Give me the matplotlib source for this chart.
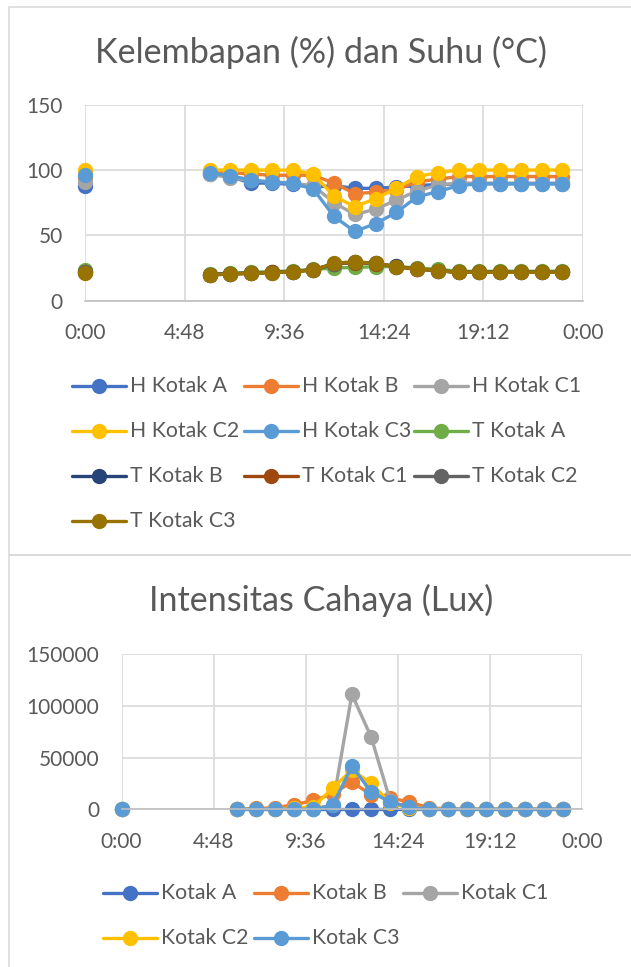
import numpy as np
import matplotlib
matplotlib.use("Agg")
import matplotlib.pyplot as plt
from matplotlib.lines import Line2D
from matplotlib.patches import Rectangle

plt.rcParams['font.family'] = ['Lato', 'DejaVu Sans']

# jam pengukuran (0:00, lalu 6:00 - 23:00); jam 1-5 kosong
hours = list(range(24))
gap = [np.nan] * 5

# kelembapan (%)
h_kotak_a = [88] + gap + [97, 95, 90, 90, 89, 87, 88, 86, 86, 87, 88, 89, 89, 89.5, 89.5, 89.5, 89.5, 89.5]
h_kotak_b = [95] + gap + [99, 98, 97, 96, 96, 96, 90, 82, 83, 85, 91, 93, 95, 95, 95, 95, 95, 95]
h_kotak_c1 = [91] + gap + [97, 94, 92, 91, 90, 88, 75, 66, 70, 77, 84, 88.5, 90, 90, 90, 90, 90, 90]
h_kotak_c2 = [100] + gap + [100, 100, 100, 100, 100, 97, 80, 72, 78, 86, 95, 98, 100, 100, 100, 100, 100, 100]
h_kotak_c3 = [96] + gap + [98, 95.5, 92.5, 90.5, 90, 85.5, 64.5, 53, 59, 67.5, 79.5, 83.5, 88, 89.5, 89.5, 89.5, 89.5, 89.5]

# suhu (°C)
t_kotak_a = [23.6] + gap + [20.5, 21, 21.7, 22.2, 22.8, 24, 25, 25.5, 26, 26.2, 25, 24, 22.5, 22.5, 22.5, 22.5, 22.5, 22.5]
t_kotak_b = [22] + gap + [20, 20.6, 21.2, 21.7, 22.3, 23.6, 28, 29.5, 28.5, 26.2, 24.3, 23, 21.8, 21.8, 21.8, 21.8, 21.8, 21.8]
t_kotak_c1 = [21.8] + gap + [19.8, 20.5, 21, 21.6, 22.2, 23.6, 28, 29.2, 28.4, 26, 24.2, 23, 21.7, 21.7, 21.7, 21.7, 21.7, 21.7]
t_kotak_c2 = [21.6] + gap + [19.8, 20.4, 21, 21.5, 22.2, 23.8, 28.2, 29.6, 28.5, 26, 24.3, 23, 21.7, 21.7, 21.7, 21.7, 21.7, 21.7]
t_kotak_c3 = [21.5] + gap + [19.7, 20.4, 21, 21.5, 22.2, 23.5, 28.6, 29.9, 28.6, 26, 24.3, 23, 21.7, 21.7, 21.7, 21.7, 21.7, 21.7]

# intensitas cahaya (lux)
lux_kotak_a = [0] + gap + [0] * 18
lux_kotak_b = [0] + gap + [300, 800, 1500, 4500, 8500, 15000, 26400, 14000, 11000, 7000, 1500, 500, 0, 0, 0, 0, 0, 0]
lux_kotak_c1 = [0] + gap + [0, 0, 0, 100, 200, 4000, 111000, 70000, 8000, 1000, 0, 0, 0, 0, 0, 0, 0, 0]
lux_kotak_c2 = [0] + gap + [0, 0, 0, 1000, 2500, 20500, 38000, 25000, 6000, 1500, 300, 0, 0, 0, 0, 0, 0, 0]
lux_kotak_c3 = [0] + gap + [0, 0, 0, 0, 0, 3900, 41600, 16800, 7000, 2000, 0, 0, 0, 0, 0, 0, 0, 0]

top_names = ["H Kotak A", "H Kotak B", "H Kotak C1", "H Kotak C2", "H Kotak C3",
             "T Kotak A", "T Kotak B", "T Kotak C1", "T Kotak C2", "T Kotak C3"]
top_series = [h_kotak_a, h_kotak_b, h_kotak_c1, h_kotak_c2, h_kotak_c3,
              t_kotak_a, t_kotak_b, t_kotak_c1, t_kotak_c2, t_kotak_c3]
bottom_names = ["Kotak A", "Kotak B", "Kotak C1", "Kotak C2", "Kotak C3"]
bottom_series = [lux_kotak_a, lux_kotak_b, lux_kotak_c1, lux_kotak_c2, lux_kotak_c3]

colors = ["#4472C4", "#ED7D31", "#A5A5A5", "#FFC000", "#5B9BD5",
          "#70AD47", "#264478", "#9E480E", "#636363", "#997300"]
text_color = "#595959"
grid_color = "#D9D9D9"

W, H = 631, 967
fig = plt.figure(figsize=(W / 100, H / 100), dpi=100)


def fx(px):
    return px / W


def fy(py):
    return 1 - py / H


# bingkai chart
for y0, y1 in [(7, 555), (555, 980)]:
    fig.add_artist(Rectangle((fx(9), fy(y1)), fx(640) - fx(9), fy(y0) - fy(y1),
                             transform=fig.transFigure, fill=False,
                             edgecolor=grid_color, lw=1.1))

xticks = [0, 4.8, 9.6, 14.4, 19.2, 24]
xlabels = [f"{int(h) % 24}:{int(round((h % 1) * 60)):02d}" for h in xticks]


def style_axes(ax, ymax, ystep):
    ax.set_xlim(0, 24)
    ax.set_ylim(0, ymax)
    ax.set_xticks(xticks)
    ax.set_xticklabels(xlabels)
    ax.set_yticks(np.arange(0, ymax + 1, ystep))
    ax.grid(True, color=grid_color, lw=1.2)
    ax.set_axisbelow(True)
    for s in ["top", "right", "left"]:
        ax.spines[s].set_visible(False)
    ax.spines["bottom"].set_color("#BFBFBF")
    ax.spines["bottom"].set_linewidth(1.2)
    ax.tick_params(length=0, pad=16, labelsize=15, colors=text_color)


def plot_series(ax, series_list):
    for vals, c in zip(series_list, colors):
        ax.plot(hours, vals, color=c, lw=2.4, marker="o", ms=10,
                solid_joinstyle="round", solid_capstyle="round", clip_on=False)


def draw_legend(names, col_x, row_y):
    for i, name in enumerate(names):
        x = col_x[i % 3]
        y = row_y[i // 3]
        fig.add_artist(Line2D([fx(x), fx(x + 54)], [fy(y), fy(y)], transform=fig.transFigure,
                              color=colors[i], lw=2.4, solid_capstyle="round"))
        fig.add_artist(Line2D([fx(x + 27)], [fy(y)], transform=fig.transFigure,
                              color=colors[i], marker="o", ms=10))
        fig.text(fx(x + 58), fy(y), name, fontsize=15.3, color=text_color, va="center", ha="left")


# chart atas: kelembapan dan suhu
ax1 = fig.add_axes([fx(85), fy(300.7), fx(583) - fx(85), fy(104.7) - fy(300.7)])
style_axes(ax1, 150, 50)
plot_series(ax1, top_series)
fig.text(fx(321), fy(63), "Kelembapan (%) dan Suhu (°C)", fontsize=24.6, color=text_color,
         ha="center", va="baseline")
draw_legend(top_names, [72.4, 243.5, 413.7], [386, 431, 476, 521])

# chart bawah: intensitas cahaya
ax2 = fig.add_axes([fx(121.5), fy(809.3), fx(582.3) - fx(121.5), fy(654) - fy(809.3)])
style_axes(ax2, 150000, 50000)
plot_series(ax2, bottom_series)
fig.text(fx(321), fy(611), "Intensitas Cahaya (Lux)", fontsize=24.6, color=text_color,
         ha="center", va="baseline")
draw_legend(bottom_names, [103.4, 253.5, 403], [893, 938])

fig.savefig("out.png", dpi=100)
